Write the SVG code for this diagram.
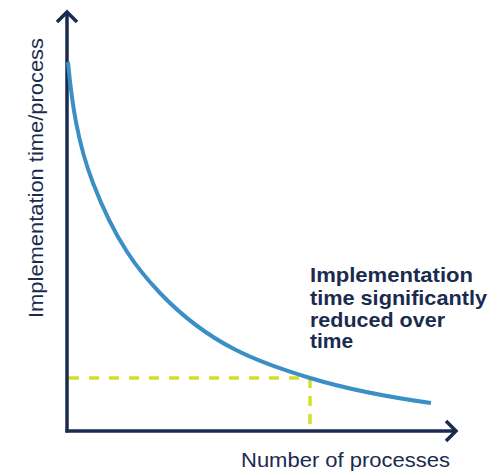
<svg xmlns="http://www.w3.org/2000/svg" width="499" height="474" viewBox="0 0 499 474">
<style>
.axis{fill:none;stroke:#1a2b50;stroke-width:3.5;stroke-linecap:butt;stroke-linejoin:miter}
.curve{fill:none;stroke:#3a8fc4;stroke-width:4}
.dash{fill:none;stroke:#d7de2a;stroke-width:3.5}
.lbl{font-family:"Liberation Sans",Arial,sans-serif;font-size:20px;fill:#1a2b50}
.note{font-family:"Liberation Sans",Arial,sans-serif;font-size:21px;font-weight:bold;fill:#1a2b50}
</style>
<rect width="499" height="474" fill="#ffffff"/>
<g id="connectors">
<path id="y-axis" class="axis" d="M67,12 L67,432.5"/>
<path id="y-arrow" class="axis" d="M57,22 L67,12 L77,22"/>
<path id="x-axis" class="axis" d="M65.5,431 L456,431"/>
<path id="x-arrow" class="axis" d="M446,421 L456,431 L446,441"/>
<path id="guide-h" class="dash" d="M69,378 L309,378" stroke-dasharray="10,10"/>
<path id="guide-v" class="dash" d="M310,378 L310,429" stroke-dasharray="10,8"/>
<path id="curve" class="curve" d="M68,62 C71.7,102.3 77.5,142.7 93,183 C115.3,241 137.7,269.6 160,293 C210,345.5 260,363 310,378 C350.3,390.1 390.7,397.4 431,403"/>
</g>
<g id="y-label">
<text class="lbl" transform="translate(43,178) rotate(-90)" text-anchor="middle" textLength="280" lengthAdjust="spacingAndGlyphs">Implementation time/process</text>
</g>
<g id="x-label">
<text class="lbl" x="241" y="467" textLength="209" lengthAdjust="spacingAndGlyphs">Number of processes</text>
</g>
<g id="note">
<text class="note" x="310" y="282" textLength="163" lengthAdjust="spacingAndGlyphs">Implementation</text>
<text class="note" x="310" y="305" textLength="177" lengthAdjust="spacingAndGlyphs">time significantly</text>
<text class="note" x="310" y="327" textLength="135" lengthAdjust="spacingAndGlyphs">reduced over</text>
<text class="note" x="310" y="348">time</text>
</g>
</svg>
